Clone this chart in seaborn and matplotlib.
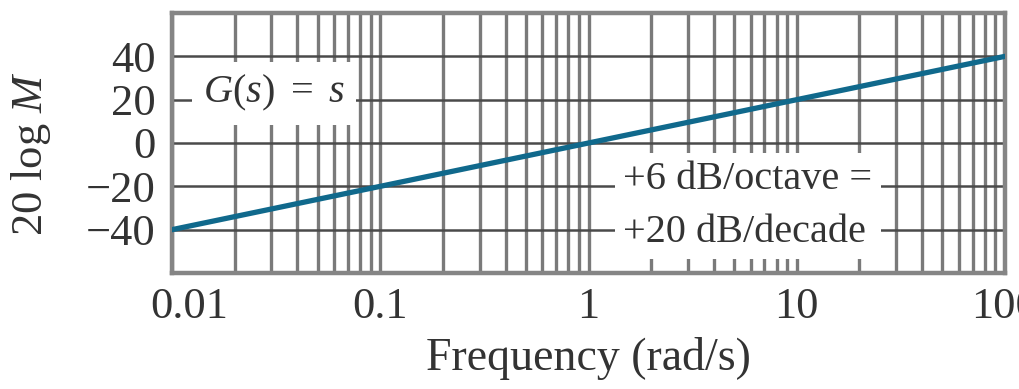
import numpy as np
import pandas as pd
import matplotlib
matplotlib.use("Agg")
import matplotlib.pyplot as plt
import matplotlib.transforms as mtransforms
from matplotlib.ticker import LogLocator, NullFormatter
import seaborn as sns

# ---- data ----
freq = [0.01, 0.1, 1, 10, 100]
mag_db = [-40, -20, 0, 20, 40]
x_ticks = [0.01, 0.1, 1, 10, 100]
x_ticklabels = ["0.01", "0.1", "1", "10", "100"]
y_ticks = [-40, -20, 0, 20, 40]
y_ticklabels = ["\u221240", "\u221220", "0", "20", "40"]

sns.set_style("white")
plt.rcParams["font.family"] = ["Liberation Serif", "DejaVu Serif"]
plt.rcParams["mathtext.fontset"] = "custom"
plt.rcParams["mathtext.rm"] = "Liberation Serif"
plt.rcParams["mathtext.it"] = "Liberation Serif:italic"

df = pd.DataFrame({"freq": freq, "mag": mag_db})

fig = plt.figure(figsize=(10.2, 3.89), dpi=100)
ax = fig.add_axes([172 / 1020, (389 - 273) / 389, (1005 - 172) / 1020, (273 - 13) / 389])

sns.lineplot(data=df, x="freq", y="mag", ax=ax, color="#10698c", linewidth=3.8, zorder=5)

ax.set_xscale("log")
ax.set_xlim(0.01, 100)
ax.set_ylim(-60, 60)

ax.set_xticks(x_ticks)
ax.set_xticklabels(x_ticklabels)
ax.xaxis.set_minor_locator(LogLocator(base=10, subs=np.arange(2, 10)))
ax.xaxis.set_minor_formatter(NullFormatter())
ax.set_yticks(y_ticks)
ax.set_yticklabels(y_ticklabels)

ax.tick_params(axis="both", which="both", length=0)
ax.tick_params(axis="y", labelsize=32, pad=12, labelcolor="#333333")
ax.tick_params(axis="x", labelsize=32, pad=10, labelcolor="#333333")

ax.grid(True, which="both", axis="x", color="#7a7a7a", linewidth=2.4, zorder=1)
ax.grid(True, which="major", axis="y", color="#4a4a4a", linewidth=1.8, zorder=1)
ax.set_axisbelow(True)

for sp in ax.spines.values():
    sp.set_color("#858585")
    sp.set_linewidth(3.2)
    sp.set_visible(True)

# shift first x tick label slightly right as in reference
lbl0 = ax.get_xticklabels()[0]
lbl0.set_transform(lbl0.get_transform() + mtransforms.ScaledTranslation(0.17, 0, fig.dpi_scale_trans))

ax.set_xlabel("Frequency (rad/s)", fontsize=33, color="#333333")
ax.xaxis.set_label_coords(0.5, -0.245)
ax.set_ylabel("20 log $M$", fontsize=32, color="#333333")
ax.yaxis.set_label_coords(-0.143, 0.46)

ax.text(0.031, 23, "$G(s)\\ =\\ s$", fontsize=29, color="#333333", ha="center", va="center",
        zorder=4, bbox=dict(facecolor="white", edgecolor="none", pad=8))
ax.text(1.47, -29, "+6 dB/octave =\n+20 dB/decade", fontsize=29, color="#333333",
        ha="left", va="center", linespacing=1.55, zorder=4,
        bbox=dict(facecolor="white", edgecolor="none", pad=6))

fig.savefig("out.png", dpi=100)
